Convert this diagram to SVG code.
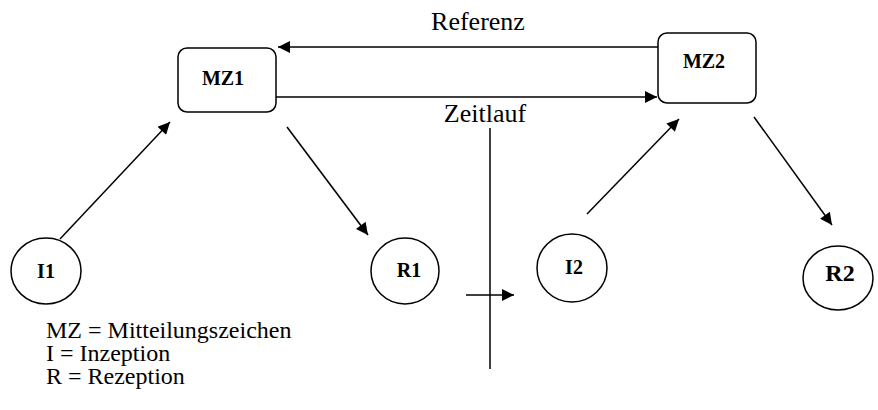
<svg xmlns="http://www.w3.org/2000/svg" width="878" height="410" viewBox="0 0 878 410">
<defs>
<marker id="ah" viewBox="0 0 10 10" refX="10" refY="5" markerWidth="13" markerHeight="12" markerUnits="userSpaceOnUse" orient="auto">
<path d="M0,0 L10,5 L0,10 z" fill="#000"/>
</marker>
</defs>
<style>
.n{fill:#fff;stroke:#000;stroke-width:1.5}
.c{stroke:#000;stroke-width:1.5;fill:none}
text{font-family:'Liberation Serif','Times New Roman',Tinos,'DejaVu Serif',serif}
.lb{font-weight:bold;font-size:20px;text-anchor:middle}
.t{font-size:24px}
</style>
<rect width="878" height="410" fill="#fff"/>
<g id="connectors">
<line class="c" x1="658" y1="47" x2="278" y2="47" marker-end="url(#ah)"/>
<line class="c" x1="276" y1="97" x2="657" y2="97" marker-end="url(#ah)"/>
<line class="c" x1="60" y1="239" x2="170" y2="122" marker-end="url(#ah)"/>
<line class="c" x1="287" y1="127" x2="368" y2="235" marker-end="url(#ah)"/>
<line class="c" x1="587" y1="214" x2="679" y2="119" marker-end="url(#ah)"/>
<line class="c" x1="754" y1="117" x2="832" y2="225" marker-end="url(#ah)"/>
<line class="c" x1="466" y1="295" x2="514" y2="295" marker-end="url(#ah)"/>
<line class="c" x1="490" y1="128" x2="490" y2="369"/>
</g>
<g id="MZ1"><rect class="n" x="178" y="48" width="98" height="64" rx="9"/><text class="lb" x="223" y="85">MZ1</text></g>
<g id="MZ2"><rect class="n" x="658" y="33" width="98" height="70" rx="9"/><text class="lb" x="704" y="68">MZ2</text></g>
<g id="I1"><ellipse class="n" cx="46" cy="271" rx="35" ry="33"/><text class="lb" x="46" y="278">I1</text></g>
<g id="R1"><ellipse class="n" cx="405" cy="271" rx="34" ry="33"/><text class="lb" x="409" y="277">R1</text></g>
<g id="I2"><ellipse class="n" cx="572" cy="268" rx="35" ry="34"/><text class="lb" x="574" y="274">I2</text></g>
<g id="R2"><ellipse class="n" cx="838" cy="278" rx="35" ry="32"/><text class="lb" x="840" y="281" style="font-size:24px">R2</text></g>
<text class="t" x="478" y="30" text-anchor="middle" style="font-size:26px">Referenz</text>
<text class="t" x="485" y="122" text-anchor="middle" style="font-size:26px">Zeitlauf</text>
<text class="t" x="46" y="338">MZ = Mitteilungszeichen</text>
<text class="t" x="46" y="361">I = Inzeption</text>
<text class="t" x="46" y="384">R = Rezeption</text>
</svg>
